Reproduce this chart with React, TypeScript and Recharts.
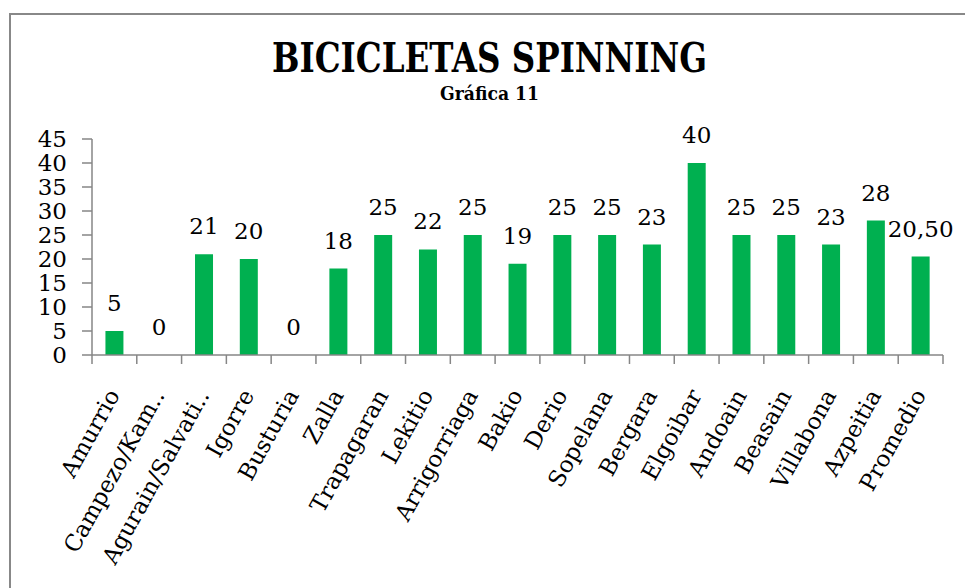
import { ComposedChart, Bar, Line, XAxis, YAxis, LabelList } from 'recharts'

// chart data
const categories = [
  'Amurrio',
  'Campezo/Kam..',
  'Agurain/Salvati..',
  'Igorre',
  'Busturia',
  'Zalla',
  'Trapagaran',
  'Lekitio',
  'Arrigorriaga',
  'Bakio',
  'Derio',
  'Sopelana',
  'Bergara',
  'Elgoibar',
  'Andoain',
  'Beasain',
  'Villabona',
  'Azpeitia',
  'Promedio',
]
const bicicletas = [5, 0, 21, 20, 0, 18, 25, 22, 25, 19, 25, 25, 23, 40, 25, 25, 23, 28, 20.5]
const yTicks = [0, 5, 10, 15, 20, 25, 30, 35, 40, 45]

const data = categories.map((name, i) => ({ name, value: bicicletas[i] }))

const FONT = '"DejaVu Serif", serif'
const GREEN = '#00B050'
const AXIS = '#868686'

const W = 965
const H = 588
const PLOT_LEFT = 92
const PLOT_RIGHT = 943
const HALF_BAND = (PLOT_RIGHT - PLOT_LEFT) / categories.length / 2

const formatValue = (v: number) =>
  Number.isInteger(v) ? String(v) : v.toFixed(2).replace('.', ',')

// category tick: rotated label plus boundary tick marks like Excel
function CategoryTick(props: any) {
  const { x, y, payload, index } = props
  const last = index === categories.length - 1
  return (
    <g>
      <line x1={x - HALF_BAND} y1={y} x2={x - HALF_BAND} y2={y + 9} stroke={AXIS} strokeWidth={1.5} />
      {last && <line x1={x + HALF_BAND} y1={y} x2={x + HALF_BAND} y2={y + 9} stroke={AXIS} strokeWidth={1.5} />}
      <text
        transform={`translate(${x + 6},${y + 40}) rotate(-61)`}
        textAnchor="end"
        fontFamily={FONT}
        fontSize={23}
        fill="#000"
      >
        {payload.value}
      </text>
    </g>
  )
}

// value label above each bar; taken from an invisible line so zero values get one too
function ValueLabel(props: any) {
  const { x, y, value } = props
  return (
    <text x={Number(x)} y={Number(y) - 20} textAnchor="middle" fontFamily={FONT} fontSize={23} fill="#000">
      {formatValue(Number(value))}
    </text>
  )
}

export default function App() {
  return (
    <div style={{ position: 'absolute', left: 0, top: 0, width: W, height: H, overflow: 'hidden', background: '#fff' }}>
      <div
        style={{
          position: 'absolute',
          left: 9,
          top: 13,
          width: 1100,
          height: 800,
          border: '2px solid #888',
          boxSizing: 'border-box',
        }}
      />
      <svg width={W} height={120} style={{ position: 'absolute', left: 0, top: 0 }}>
        <text
          x={489.5}
          y={72}
          textAnchor="middle"
          fontFamily={FONT}
          fontWeight="bold"
          fontSize={41}
          textLength={435}
          lengthAdjust="spacingAndGlyphs"
          fill="#000"
        >
          BICICLETAS SPINNING
        </text>
        <text
          x={489.5}
          y={100}
          textAnchor="middle"
          fontFamily={FONT}
          fontWeight="bold"
          fontSize={18}
          textLength={99}
          lengthAdjust="spacingAndGlyphs"
          fill="#000"
        >
          Gráfica 11
        </text>
      </svg>
      <div style={{ position: 'absolute', left: 0, top: 0 }}>
        <ComposedChart
          width={W}
          height={H}
          data={data}
          margin={{ top: 139, right: W - PLOT_RIGHT, left: 32, bottom: 0 }}
          barCategoryGap="30%"
        >
          <XAxis
            dataKey="name"
            height={233}
            interval={0}
            tickLine={false}
            tickSize={0}
            tickMargin={0}
            axisLine={{ stroke: AXIS, strokeWidth: 1.5 }}
            tick={<CategoryTick />}
          />
          <YAxis
            width={60}
            domain={[0, 45]}
            ticks={yTicks}
            interval={0}
            tickSize={10}
            tickMargin={15}
            axisLine={{ stroke: AXIS, strokeWidth: 1.5 }}
            tickLine={{ stroke: AXIS, strokeWidth: 1.5 }}
            tick={{ fontFamily: FONT, fontSize: 23, fill: '#000' }}
          />
          <Bar dataKey="value" fill={GREEN} isAnimationActive={false} />
          <Line
            dataKey="value"
            stroke="none"
            dot={false}
            activeDot={false}
            legendType="none"
            isAnimationActive={false}
          >
            <LabelList dataKey="value" content={<ValueLabel />} />
          </Line>
        </ComposedChart>
      </div>
    </div>
  )
}
